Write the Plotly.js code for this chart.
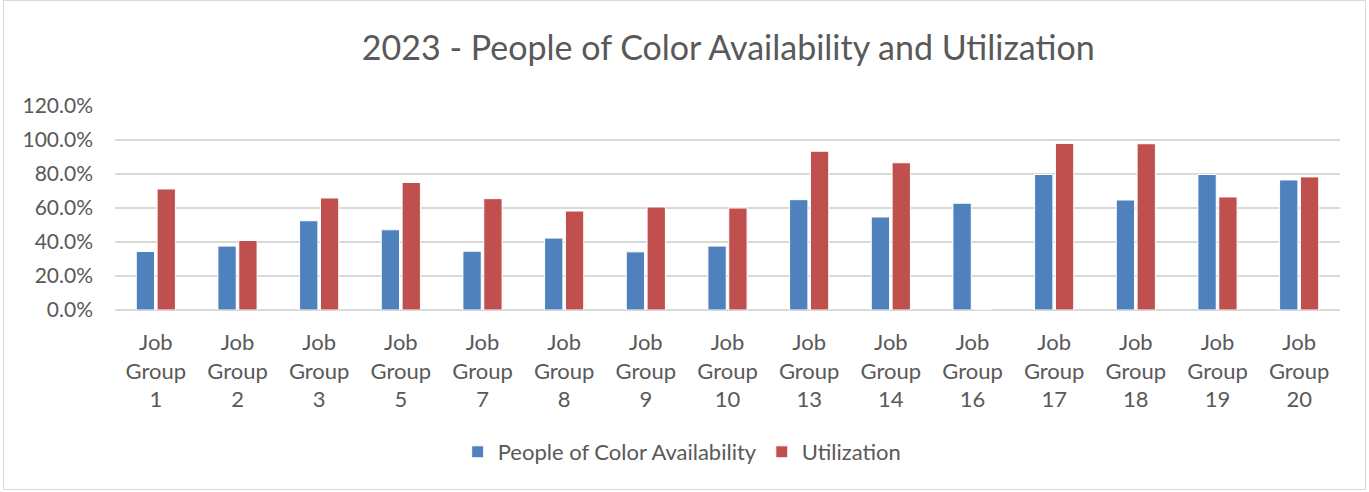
<!DOCTYPE html>
<html>
<head>
<meta charset="utf-8">
<script src="https://cdn.plot.ly/plotly-3.0.1.min.js"></script>
<style>
  html, body { margin: 0; padding: 0; background: #fff; }
  #plot { width: 1369px; height: 492px; position: absolute; left: 0; top: 0; }
  #frame { position: absolute; left: 3px; top: 0px; width: 1361px; height: 488px; border: 1px solid #d9d9d9; pointer-events: none; }
</style>
</head>
<body>
<div id="plot"></div>
<div id="frame"></div>
<script>
const categories = ["Job<br>Group<br>1", "Job<br>Group<br>2", "Job<br>Group<br>3", "Job<br>Group<br>5", "Job<br>Group<br>7",
  "Job<br>Group<br>8", "Job<br>Group<br>9", "Job<br>Group<br>10", "Job<br>Group<br>13", "Job<br>Group<br>14",
  "Job<br>Group<br>16", "Job<br>Group<br>17", "Job<br>Group<br>18", "Job<br>Group<br>19", "Job<br>Group<br>20"];
const availability = [0.344, 0.376, 0.525, 0.472, 0.346, 0.423, 0.342, 0.376, 0.649, 0.547, 0.628, 0.797, 0.647, 0.797, 0.765];
const utilization = [0.712, 0.409, 0.659, 0.750, 0.655, 0.582, 0.606, 0.600, 0.934, 0.866, 0, 0.980, 0.978, 0.665, 0.783];
const seriesNames = ["People of Color Availability", "Utilization"];

const FONT = "Lato, 'Open Sans', sans-serif";
const GREY = "#595959";

const traces = [
  { type: "bar", x: categories, y: availability, name: seriesNames[0],
    marker: { color: "#4f81bd", line: { color: "#ffffff", width: 1 } }, hoverinfo: "x+y" },
  { type: "bar", x: categories, y: utilization, name: seriesNames[1],
    marker: { color: "#c0504d", line: { color: "#ffffff", width: 1 } }, hoverinfo: "x+y" }
];

const layout = {
  width: 1369, height: 492,
  margin: { l: 115, r: 29, t: 106, b: 182 },
  paper_bgcolor: "#ffffff", plot_bgcolor: "#ffffff",
  font: { family: FONT, color: GREY, size: 22 },
  title: { text: "2023 - People of Color Availability and Utilization",
    font: { family: FONT, size: 34, color: GREY },
    x: 0.532, xanchor: "center", y: 1 - 48 / 492, yanchor: "middle", yref: "container" },
  barmode: "group", bargap: 0.49, bargroupgap: 0.12,
  xaxis: { type: "category", tickfont: { size: 22, color: GREY, family: FONT },
    showgrid: false, showline: false, ticks: "", zeroline: false, automargin: false,
    ticklabelstandoff: 17 },
  yaxis: { range: [0, 1.2], dtick: 0.2, tick0: 0, tickformat: ".1%",
    tickfont: { size: 21, color: GREY, family: FONT },
    gridcolor: "#d9d9d9", gridwidth: 1.5, zeroline: true, zerolinecolor: "#d9d9d9", zerolinewidth: 1.5,
    showline: false, ticks: "", ticklen: 0, automargin: false, ticklabelstandoff: 21 },
  legend: { orientation: "h", x: 0.463, xanchor: "center", y: -142 / 204, yanchor: "middle",
    font: { size: 22, color: GREY, family: FONT }, itemwidth: 30, traceorder: "normal" },
  showlegend: true
};

Plotly.newPlot("plot", traces, layout, { displayModeBar: false, staticPlot: true });
</script>
</body>
</html>
